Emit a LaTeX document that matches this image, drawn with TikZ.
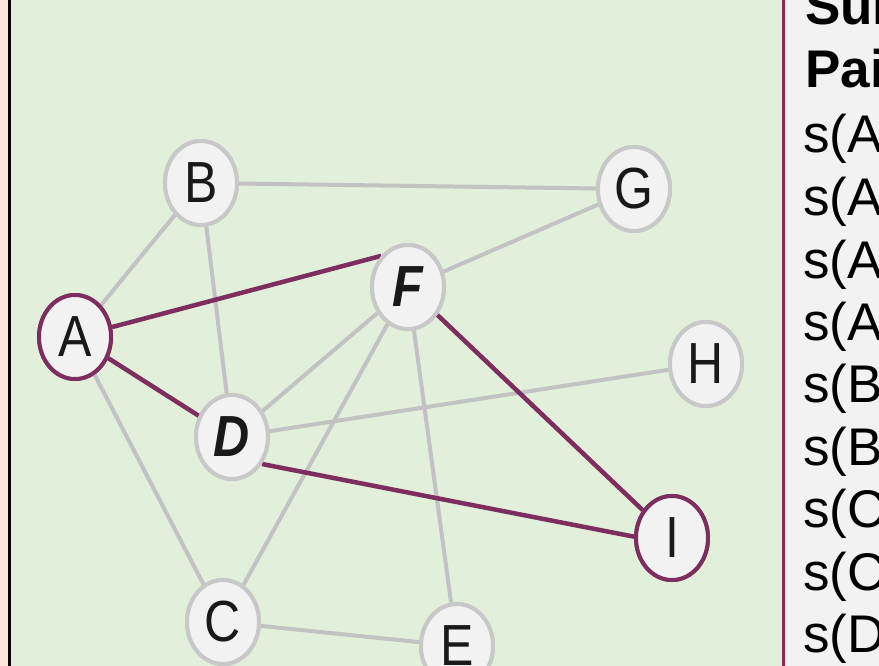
\documentclass[tikz,border=0pt]{standalone}
\usepackage{fontspec}
\setmainfont{Liberation Sans}
\usetikzlibrary{shapes.geometric}

\definecolor{peach}{HTML}{FCE4D6}
\definecolor{panelgreen}{HTML}{E2EFDA}
\definecolor{panelgray}{HTML}{F2F2F2}
\definecolor{plum}{HTML}{7D2E5E}
\definecolor{divider}{HTML}{8C2C50}
\definecolor{edgegray}{HTML}{C2C2C2}
\definecolor{ringgray}{HTML}{C8C8C8}

\tikzset{
  vertex/.style={ellipse, draw=ringgray, line width=4pt, fill=panelgray,
    minimum width=72pt, minimum height=84pt, inner sep=0pt, text=black!90,
    font=\fontsize{50}{50}\selectfont},
  marked/.style={vertex, draw=plum},
  plainedge/.style={draw=edgegray, line width=4pt},
  pathedge/.style={draw=plum, line width=4.5pt},
  listtext/.style={anchor=base west, inner sep=0pt, text=black,
    font=\fontsize{53}{53}\selectfont},
}
\newcommand{\tall}[1]{\scalebox{1}[1.16]{#1}}

\begin{document}
\begin{tikzpicture}[x=1pt,y=-1pt]
  \useasboundingbox (0,0) rectangle (879,666);
  \clip (0,0) rectangle (879,666);

  % background panels
  \fill[peach] (0,-5) rectangle (9,671);
  \fill[panelgreen] (9,-5) rectangle (783,671);
  \fill[panelgray] (783,-5) rectangle (884,671);
  \draw[black, line width=3pt] (9.5,-5) -- (9.5,671);
  \draw[divider, line width=2.2pt] (783.5,-5) -- (783.5,671);

  % vertices (placed first so the edges can refer to them)
  \node[vertex] (B) at (201,183) {\tall{B}};
  \node[vertex] (G) at (634,189) {\tall{G}};
  \node[vertex] (F) at (408,287) {\tall{\textbf{\textit{F}}}};
  \node[marked] (A) at (75,337) {\tall{A}};
  \node[vertex] (H) at (706,364) {\tall{H}};
  \node[vertex] (D) at (232,437) {\tall{\textbf{\textit{D}}}};
  \node[marked] (I) at (672,538) {\tall{I}};
  \node[vertex] (C) at (223,622) {\tall{C}};
  \node[vertex] (E) at (457,646) {\tall{E}};

  % edges
  \path[plainedge]
    (A) -- (B)  (B) -- (G)  (B) -- (D)  (G) -- (F)
    (A) -- (C)  (F) -- (D)  (F) -- (C)  (F) -- (E)
    (D) -- (H)  (C) -- (E);
  \path[pathedge]
    (A.15) -- (F.north west)  (A) -- (D)  (F) -- (I)  (D.-42) -- (I.178);

  % redraw the vertices so their rings sit on top of the edges
  \node[vertex] at (B) {\tall{B}};
  \node[vertex] at (G) {\tall{G}};
  \node[vertex] at (F) {\tall{\textbf{\textit{F}}}};
  \node[marked] at (A) {\tall{A}};
  \node[vertex] at (H) {\tall{H}};
  \node[vertex] at (D) {\tall{\textbf{\textit{D}}}};
  \node[marked] at (I) {\tall{I}};
  \node[vertex] at (C) {\tall{C}};
  \node[vertex] at (E) {\tall{E}};

  % side list
  \node[listtext, font=\fontsize{53}{53}\selectfont\bfseries] (t1) at (805,25) {Sum};
  \node[listtext, font=\fontsize{53}{53}\selectfont\bfseries] (t2) at (805,88) {Pai};
  \node[listtext] (s1) at (803,153) {s(A};
  \node[listtext] (s2) at (803,215) {s(A};
  \node[listtext] (s3) at (803,278) {s(A};
  \node[listtext] (s4) at (803,340) {s(A};
  \node[listtext] (s5) at (803,402) {s(B};
  \node[listtext] (s6) at (803,465) {s(B};
  \node[listtext] (s7) at (803,527) {s(C};
  \node[listtext] (s8) at (803,590) {s(C};
  \node[listtext] (s9) at (803,652) {s(D};
\end{tikzpicture}
\end{document}
